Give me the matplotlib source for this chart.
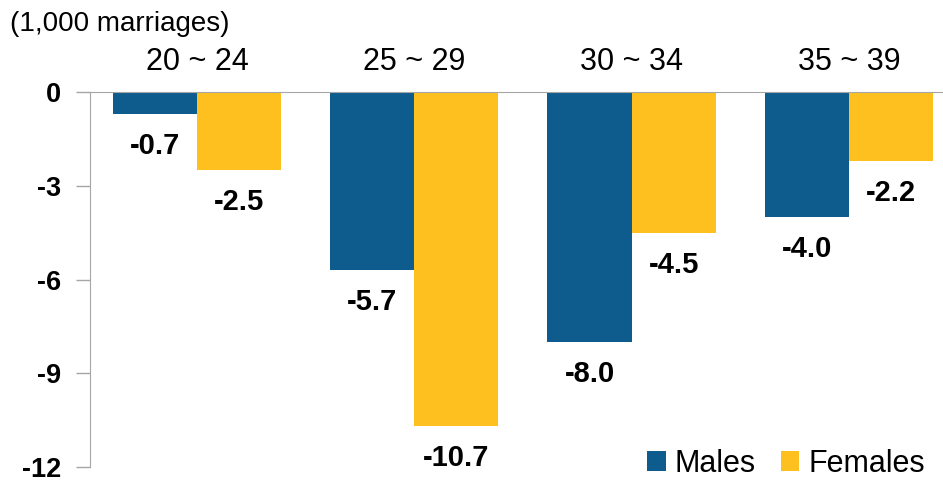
import matplotlib.pyplot as plt
import numpy as np

# data
age_groups = ['20 ~ 24', '25 ~ 29', '30 ~ 34', '35 ~ 39']
males = [-0.7, -5.7, -8.0, -4.0]
females = [-2.5, -10.7, -4.5, -2.2]
y_ticks = [0, -3, -6, -9, -12]

blue = '#0E5B8D'
yellow = '#FDC01F'
grey = '#A6A6A6'

plt.rcParams['font.family'] = ['Liberation Sans', 'DejaVu Sans']

fig = plt.figure(figsize=(9.43, 4.84), dpi=100)
ax = fig.add_axes([90 / 943, 1 - 467 / 484, 1 - 90 / 943, (467 - 92) / 484])

x = np.arange(len(age_groups))
w = 0.387
b1 = ax.bar(x - w / 2, males, w, color=blue, label='Males')
b2 = ax.bar(x + w / 2, females, w, color=yellow, label='Females')

# value labels under each bar
for bars in (b1, b2):
    for bar in bars:
        h = bar.get_height()
        ax.annotate(f"{h:.1f}", (bar.get_x() + bar.get_width() / 2, h),
                    xytext=(0, -13), textcoords='offset points',
                    ha='center', va='top', fontsize=21, fontweight='bold')

ax.set_ylim(-12, 0)
ax.set_xlim(-0.492, 3.433)
ax.set_yticks(y_ticks)
ax.set_yticklabels([str(t) for t in y_ticks], fontsize=19.5, fontweight='bold')
ax.tick_params(axis='y', length=10, width=1, color=grey, pad=11)

# category labels on top
ax.xaxis.tick_top()
ax.set_xticks(x)
ax.set_xticklabels(age_groups, fontsize=22)
ax.tick_params(axis='x', length=0, pad=11)

ax.spines['right'].set_visible(False)
ax.spines['bottom'].set_visible(False)
ax.spines['left'].set_color(grey)
ax.spines['top'].set_color(grey)

fig.text(10 / 943, 1 - 24 / 484, '(1,000 marriages)', fontsize=20, va='center')

ax.legend(loc='lower right', bbox_to_anchor=(1.0, -0.08), ncol=2, frameon=False,
          fontsize=22, handlelength=0.6, handleheight=0.6, handletextpad=0.3,
          columnspacing=0.8, borderaxespad=0.2)

fig.savefig('out.png', dpi=100)
